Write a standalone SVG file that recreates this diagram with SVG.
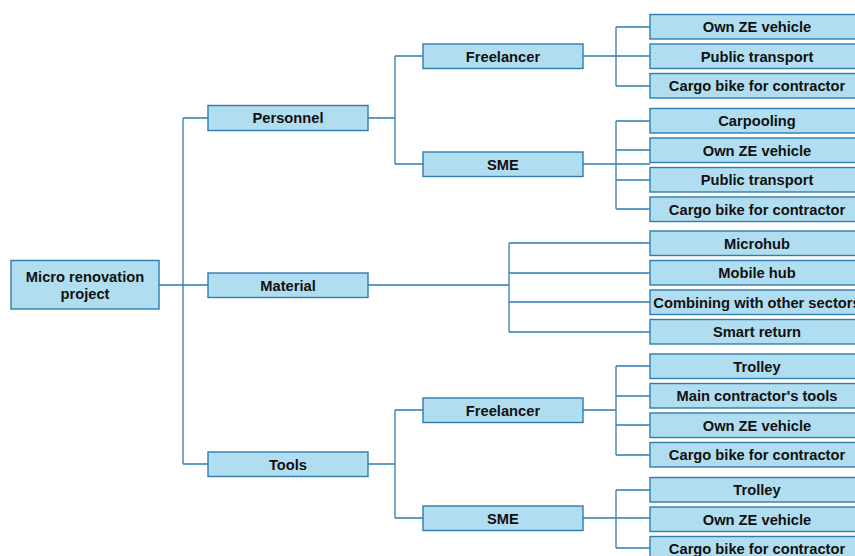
<svg xmlns="http://www.w3.org/2000/svg" width="855" height="556" viewBox="0 0 855 556">
  <style>
    .box { fill: #b1ddf0; stroke: #2f7cae; stroke-width: 1.4; }
    .lbl { font-family: "Liberation Sans", Arial, sans-serif; font-weight: bold; font-size: 14.7px; fill: #111; text-anchor: middle; dominant-baseline: central; }
    .wire { fill: none; stroke: #2f7cae; stroke-width: 1.3; }
  </style>
  <rect width="855" height="556" fill="#ffffff"/>

  <!-- connectors -->
  <g id="connectors" class="wire">
    <!-- root to level 1 -->
    <path d="M159 285 H208 M183 118 V464 M183 118 H208 M183 464 H208"/>
    <!-- Personnel -->
    <path d="M368 118 H395 M395 56 V164 M395 56 H423 M395 164 H423"/>
    <!-- Personnel / Freelancer -->
    <path d="M583 56 H650 M616 27 V86 M616 27 H650 M616 86 H650"/>
    <!-- Personnel / SME -->
    <path d="M583 164 H650 M616 121 V209 M616 121 H650 M616 150 H650 M616 180 H650 M616 209 H650"/>
    <!-- Material -->
    <path d="M368 285 H509 M509 243 V332 M509 243 H650 M509 273 H650 M509 302 H650 M509 332 H650"/>
    <!-- Tools -->
    <path d="M368 464 H395 M395 410 V518 M395 410 H423 M395 518 H423"/>
    <!-- Tools / Freelancer -->
    <path d="M583 410 H616 M616 366 V455 M616 366 H650 M616 396 H650 M616 425 H650 M616 455 H650"/>
    <!-- Tools / SME -->
    <path d="M583 518 H650 M616 490 V548 M616 490 H650 M616 548 H650"/>
  </g>

  <!-- root -->
  <g id="root">
    <rect class="box" x="11" y="260.5" width="148" height="48.5"/>
    <text class="lbl" x="85" y="276.5">Micro renovation</text>
    <text class="lbl" x="85" y="294">project</text>
  </g>

  <!-- level 1 -->
  <g id="personnel"><rect class="box" x="208" y="105.5" width="160" height="25"/><text class="lbl" x="288" y="118">Personnel</text></g>
  <g id="material"><rect class="box" x="208" y="273" width="160" height="24.5"/><text class="lbl" x="288" y="285.5">Material</text></g>
  <g id="tools"><rect class="box" x="208" y="452" width="160" height="24.5"/><text class="lbl" x="288" y="464.5">Tools</text></g>

  <!-- level 2 -->
  <g id="personnel-freelancer"><rect class="box" x="423" y="44" width="160" height="24.5"/><text class="lbl" x="503" y="56.5">Freelancer</text></g>
  <g id="personnel-sme"><rect class="box" x="423" y="152" width="160" height="24.5"/><text class="lbl" x="503" y="164.5">SME</text></g>
  <g id="tools-freelancer"><rect class="box" x="423" y="398" width="160" height="24.5"/><text class="lbl" x="503" y="410.5">Freelancer</text></g>
  <g id="tools-sme"><rect class="box" x="423" y="506" width="160" height="24.5"/><text class="lbl" x="503" y="518.5">SME</text></g>

  <!-- leaves -->
  <g id="pf-own-ze"><rect class="box" x="650" y="14.5" width="214" height="24.5"/><text class="lbl" x="757" y="27">Own ZE vehicle</text></g>
  <g id="pf-public"><rect class="box" x="650" y="44" width="214" height="24.5"/><text class="lbl" x="757" y="56.5">Public transport</text></g>
  <g id="pf-cargo"><rect class="box" x="650" y="73.5" width="214" height="24.5"/><text class="lbl" x="757" y="86">Cargo bike for contractor</text></g>

  <g id="ps-carpool"><rect class="box" x="650" y="108.5" width="214" height="24.5"/><text class="lbl" x="757" y="121">Carpooling</text></g>
  <g id="ps-own-ze"><rect class="box" x="650" y="138" width="214" height="24.5"/><text class="lbl" x="757" y="150.5">Own ZE vehicle</text></g>
  <g id="ps-public"><rect class="box" x="650" y="167.5" width="214" height="24.5"/><text class="lbl" x="757" y="180">Public transport</text></g>
  <g id="ps-cargo"><rect class="box" x="650" y="197" width="214" height="24.5"/><text class="lbl" x="757" y="209.5">Cargo bike for contractor</text></g>

  <g id="m-microhub"><rect class="box" x="650" y="231" width="214" height="24.5"/><text class="lbl" x="757" y="243.5">Microhub</text></g>
  <g id="m-mobile"><rect class="box" x="650" y="260.5" width="214" height="24.5"/><text class="lbl" x="757" y="273">Mobile hub</text></g>
  <g id="m-combining"><rect class="box" x="650" y="290" width="214" height="24.5"/><text class="lbl" x="757" y="302.5">Combining with other sectors</text></g>
  <g id="m-smart"><rect class="box" x="650" y="319.5" width="214" height="24.5"/><text class="lbl" x="757" y="332">Smart return</text></g>

  <g id="tf-trolley"><rect class="box" x="650" y="354" width="214" height="24.5"/><text class="lbl" x="757" y="366.5">Trolley</text></g>
  <g id="tf-main-tools"><rect class="box" x="650" y="383.5" width="214" height="24.5"/><text class="lbl" x="757" y="396">Main contractor's tools</text></g>
  <g id="tf-own-ze"><rect class="box" x="650" y="413" width="214" height="24.5"/><text class="lbl" x="757" y="425.5">Own ZE vehicle</text></g>
  <g id="tf-cargo"><rect class="box" x="650" y="442.5" width="214" height="24.5"/><text class="lbl" x="757" y="455">Cargo bike for contractor</text></g>

  <g id="ts-trolley"><rect class="box" x="650" y="477.5" width="214" height="24.5"/><text class="lbl" x="757" y="490">Trolley</text></g>
  <g id="ts-own-ze"><rect class="box" x="650" y="507" width="214" height="24.5"/><text class="lbl" x="757" y="519.5">Own ZE vehicle</text></g>
  <g id="ts-cargo"><rect class="box" x="650" y="536.5" width="214" height="24.5"/><text class="lbl" x="757" y="549">Cargo bike for contractor</text></g>
</svg>
